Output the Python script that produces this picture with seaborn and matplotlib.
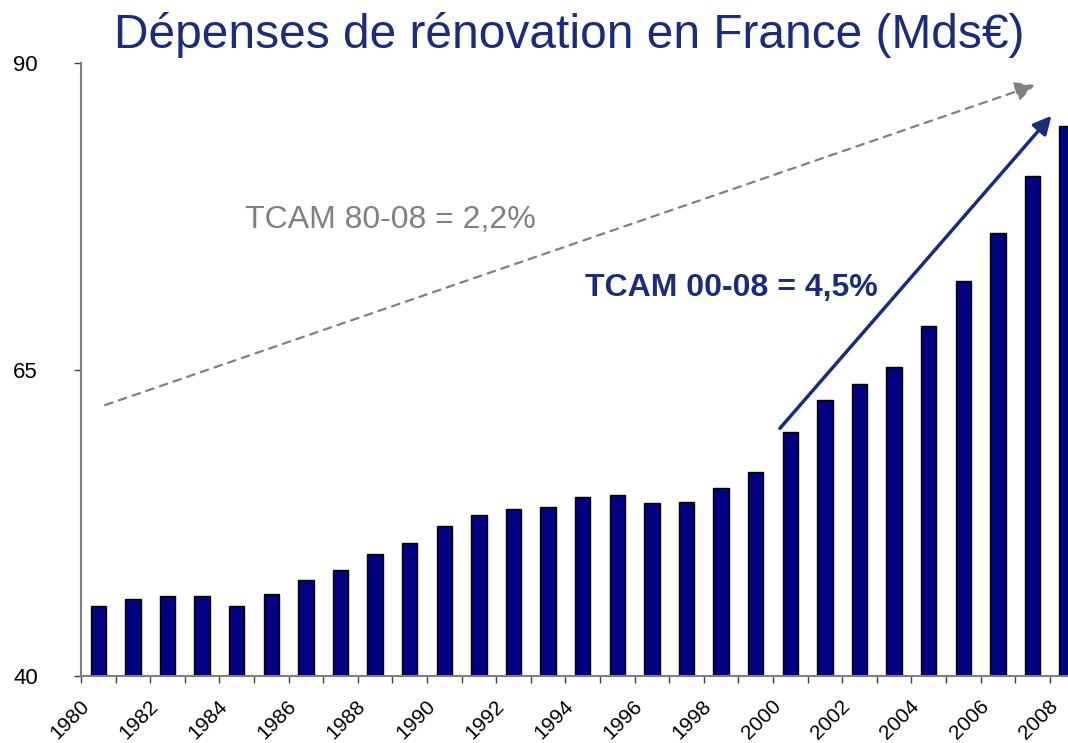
import matplotlib
matplotlib.use("Agg")
import matplotlib.pyplot as plt
import seaborn as sns
import pandas as pd
import numpy as np

# Renovation spending in France, billions of euros
years = list(range(1980, 2009))
spending = [45.7, 46.25, 46.5, 46.5, 45.7, 46.65, 47.8, 48.65, 49.95, 50.85,
            52.2, 53.15, 53.65, 53.8, 54.6, 54.8, 54.1, 54.2, 55.3, 56.6,
            59.9, 62.5, 63.8, 65.2, 68.55, 72.2, 76.1, 80.8, 84.9]
y_ticks = [40, 65, 90]
title = "Dépenses de rénovation en France (Mds€)"
note_long = "TCAM 80-08 = 2,2%"
note_recent = "TCAM 00-08 = 4,5%"

NAVY_BAR = "#000080"
NAVY_TXT = "#1B2C78"
GRAY = "#808080"

sns.set_theme(style="white")
plt.rcParams["font.family"] = ["Liberation Sans", "DejaVu Sans"]

df = pd.DataFrame({"year": [str(y) for y in years], "value": spending})

fig = plt.figure(figsize=(10.68, 7.43), dpi=100)
ax = fig.add_axes([81 / 1068, 67 / 743, 29 * 34.6 / 1068, 613 / 743])

sns.barplot(data=df, x="year", y="value", color=NAVY_BAR, saturation=1,
            width=0.44, edgecolor="black", linewidth=1.0, ax=ax)

ax.set_ylim(40, 90)
ax.set_xlim(-0.5, len(years) - 0.5)
ax.set_yticks(y_ticks)
ax.set_yticklabels([str(t) for t in y_ticks], fontsize=16, color="black")

# category ticks at the boundaries between bars, labels every two years
ax.set_xticks(np.arange(len(years) + 1) - 0.5, minor=False)
ax.set_xticklabels([])
ax.tick_params(axis="x", which="major", direction="out", length=5, width=1,
               color="#404040", bottom=True)
ax.tick_params(axis="y", direction="out", length=5, width=1, color="#404040",
               left=True, pad=26)
for i, y in enumerate(years):
    if y % 2 == 0:
        ax.text(i - 0.55, -0.033, str(y), transform=ax.get_xaxis_transform(),
                rotation=45, ha="right", va="top", rotation_mode="anchor",
                fontsize=15, color="black")

ax.set_xlabel("")
ax.set_ylabel("")
for side in ["top", "right"]:
    ax.spines[side].set_visible(False)
for side in ["left", "bottom"]:
    ax.spines[side].set_color(GRAY)
    ax.spines[side].set_linewidth(1.5)

# growth-rate arrows
ax.annotate("", xy=(27.07, 88.2), xytext=(0.2, 62.1),
            arrowprops=dict(arrowstyle="-|>,head_length=1.0,head_width=0.5",
                            color=GRAY, lw=1.6, linestyle=(0, (3.5, 3)),
                            shrinkA=0, shrinkB=0),
            annotation_clip=False)
ax.annotate("", xy=(27.55, 85.7), xytext=(19.7, 60.2),
            arrowprops=dict(arrowstyle="-|>,head_length=0.9,head_width=0.45",
                            color=NAVY_TXT, lw=2.5, shrinkA=0, shrinkB=0),
            annotation_clip=False)

fig.text(390 / 1068, 1 - 220 / 743, note_long, ha="center", va="center",
         fontsize=23, color=GRAY)
fig.text(731 / 1068, 1 - 288 / 743, note_recent, ha="center", va="center",
         fontsize=23, color=NAVY_TXT, fontweight="bold")
fig.text(569 / 1068, 1 - 35 / 743, title, ha="center", va="center",
         fontsize=34.5, color=NAVY_TXT)

fig.savefig("out.png", dpi=100)
